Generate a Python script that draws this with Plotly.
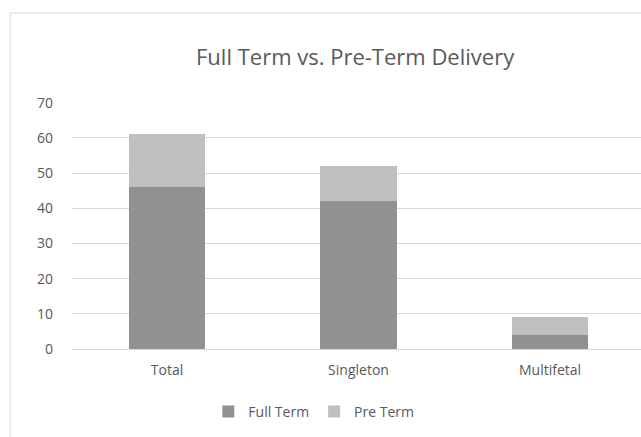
import plotly.graph_objects as go

# Chart data
categories = ["Total", "Singleton", "Multifetal"]
full_term = [46, 42, 4]
pre_term = [15, 10, 5]

fig = go.Figure()
fig.add_trace(go.Bar(x=categories, y=full_term, name="Full Term",
                     marker=dict(color="#919191", line=dict(width=0))))
fig.add_trace(go.Bar(x=categories, y=pre_term, name="Pre Term",
                     marker=dict(color="#bfbfbf", line=dict(width=0))))

text_color = "#595959"

fig.update_layout(
    barmode="stack",
    bargap=0.6,
    width=641, height=437,
    margin=dict(l=72, r=0, t=102, b=88),
    paper_bgcolor="white",
    plot_bgcolor="white",
    font=dict(family="Open Sans", size=14, color=text_color),
    title=dict(text="Full Term vs. Pre-Term Delivery", x=0.554, xanchor="center",
               y=0.870, yanchor="middle",
               font=dict(family="Open Sans", size=22, color=text_color)),
    legend=dict(orientation="h", x=0.425, xanchor="center", y=-0.255, yanchor="middle",
                font=dict(size=14, color=text_color), itemwidth=30,
                traceorder="normal"),
    xaxis=dict(range=[-0.496, 2.475], showgrid=False, showline=False, ticks="",
               ticklabelstandoff=11,
               tickfont=dict(size=14, color=text_color)),
    yaxis=dict(range=[0, 70.2], dtick=10, showgrid=True, gridcolor="#d9d9d9",
               gridwidth=1, zeroline=True, zerolinecolor="#d9d9d9", zerolinewidth=1,
               ticks="", ticklabelstandoff=18,
               tickfont=dict(size=14, color=text_color)),
    shapes=[dict(type="rect", xref="paper", yref="paper",
                 x0=-0.109, x1=1.05, y0=-0.5, y1=1.36,
                 line=dict(color="#d9d9d9", width=1), fillcolor="rgba(0,0,0,0)",
                 layer="below")],
)

# drop the default body margin so the figure fills the window exactly
fig.write_html("out.html", config={"displayModeBar": False},
               post_script="document.body.style.margin='0';")
